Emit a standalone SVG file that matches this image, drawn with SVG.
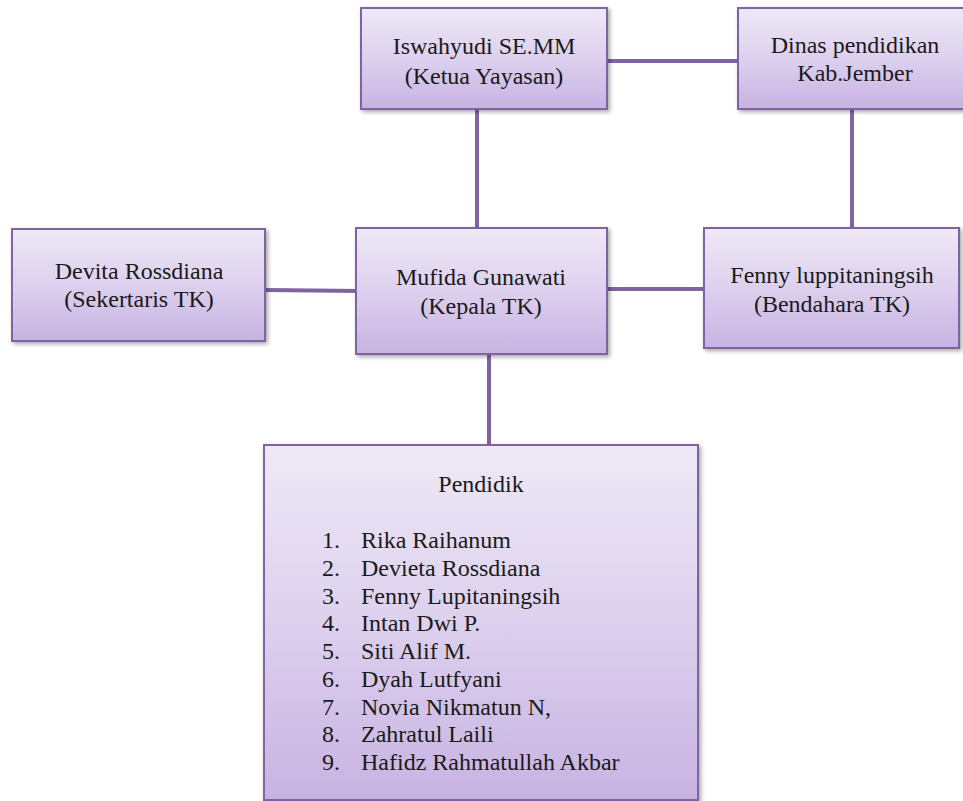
<svg xmlns="http://www.w3.org/2000/svg" width="963" height="801" viewBox="0 0 963 801">
<defs>
<linearGradient id="g" x1="0" y1="0" x2="0" y2="1">
<stop offset="0" stop-color="#eee9f6"/>
<stop offset="0.5" stop-color="#ddd0ee"/>
<stop offset="1" stop-color="#c7b3e2"/>
</linearGradient>
<filter id="sh" x="-10%" y="-10%" width="125%" height="125%">
<feGaussianBlur in="SourceAlpha" stdDeviation="2"/>
<feOffset dx="2" dy="2" result="b"/>
<feComponentTransfer><feFuncA type="linear" slope="0.35"/></feComponentTransfer>
<feMerge><feMergeNode/><feMergeNode in="SourceGraphic"/></feMerge>
</filter>
</defs>
<style>
.box{fill:url(#g);stroke:#8064a2;stroke-width:2;filter:url(#sh)}
.t{font-family:"Liberation Serif",serif;font-size:24px;fill:#1a1a1a;text-anchor:middle}
.l{font-family:"Liberation Serif",serif;font-size:24px;fill:#1a1a1a}
.c{stroke:#8064a2;stroke-width:4;fill:none}
</style>
<rect width="963" height="801" fill="#ffffff"/>
<g id="connectors">
<line class="c" x1="607" y1="61" x2="738" y2="61"/>
<line class="c" x1="477" y1="109" x2="477" y2="228"/>
<line class="c" x1="852" y1="109" x2="852" y2="228"/>
<line class="c" x1="265" y1="290" x2="360" y2="291"/>
<line class="c" x1="607" y1="289" x2="704" y2="289"/>
<line class="c" x1="489" y1="354" x2="489" y2="445"/>
</g>
<g id="ketua">
<rect class="box" x="361" y="8" width="246" height="101"/>
<text class="t" x="484" y="54">Iswahyudi SE.MM</text>
<text class="t" x="484" y="84">(Ketua Yayasan)</text>
</g>
<g id="dinas">
<rect class="box" x="738" y="8" width="236" height="101"/>
<text class="t" x="855" y="53">Dinas pendidikan</text>
<text class="t" x="855" y="81">Kab.Jember</text>
</g>
<g id="sekertaris">
<rect class="box" x="12" y="229" width="253" height="112"/>
<text class="t" x="139" y="279">Devita Rossdiana</text>
<text class="t" x="139" y="307">(Sekertaris TK)</text>
</g>
<g id="kepala">
<rect class="box" x="356" y="228" width="251" height="126"/>
<text class="t" x="481" y="285">Mufida Gunawati</text>
<text class="t" x="481" y="314">(Kepala TK)</text>
</g>
<g id="bendahara">
<rect class="box" x="704" y="228" width="255" height="120"/>
<text class="t" x="832" y="283">Fenny luppitaningsih</text>
<text class="t" x="832" y="312">(Bendahara TK)</text>
</g>
<g id="pendidik">
<rect class="box" x="264" y="445" width="434" height="355"/>
<text class="t" x="481" y="492">Pendidik</text>
<text class="l" x="322" y="548">1.</text><text class="l" x="361" y="548">Rika Raihanum</text>
<text class="l" x="322" y="576">2.</text><text class="l" x="361" y="576">Devieta Rossdiana</text>
<text class="l" x="322" y="604">3.</text><text class="l" x="361" y="604">Fenny Lupitaningsih</text>
<text class="l" x="322" y="631">4.</text><text class="l" x="361" y="631">Intan Dwi P.</text>
<text class="l" x="322" y="659">5.</text><text class="l" x="361" y="659">Siti Alif M.</text>
<text class="l" x="322" y="687">6.</text><text class="l" x="361" y="687">Dyah Lutfyani</text>
<text class="l" x="322" y="715">7.</text><text class="l" x="361" y="715">Novia Nikmatun N,</text>
<text class="l" x="322" y="742">8.</text><text class="l" x="361" y="742">Zahratul Laili</text>
<text class="l" x="322" y="770">9.</text><text class="l" x="361" y="770">Hafidz Rahmatullah Akbar</text>
</g>
</svg>
